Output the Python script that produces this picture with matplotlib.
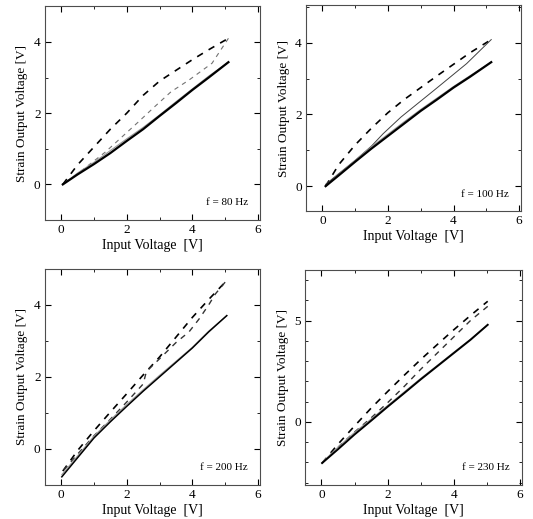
import matplotlib
matplotlib.use('Agg')
from matplotlib import pyplot as plt
from matplotlib.ticker import MultipleLocator

plt.rcParams['font.family'] = ['Liberation Serif', 'DejaVu Serif']

# f = 80 Hz
p1_up_x = [0.05, 0.5, 1.0, 1.5, 2.0, 2.5, 3.0, 3.5, 4.0, 4.5, 5.1]
p1_up_y = [0.0, 0.55, 1.05, 1.55, 2.0, 2.5, 2.9, 3.2, 3.5, 3.78, 4.1]
p1_dn_x = [5.1, 4.6, 3.9, 3.35, 2.85, 2.35, 1.85, 1.35, 0.85, 0.5, 0.05]
p1_dn_y = [4.1, 3.4, 2.93, 2.6, 2.18, 1.75, 1.33, 0.91, 0.55, 0.3, 0.0]
p1_sol_x = [0.05, 0.5, 1.0, 1.5, 2.0, 2.5, 3.0, 3.5, 4.0, 4.5, 5.1]
p1_sol_y = [0.0, 0.28, 0.57, 0.88, 1.22, 1.55, 1.92, 2.28, 2.65, 3.0, 3.43]
p1_gr_y = [0.0, 0.32, 0.62, 0.95, 1.28, 1.6, 1.95, 2.32, 2.68, 3.04, 3.43]

# f = 100 Hz
p2_up_x = [0.1, 0.5, 1.0, 1.5, 2.0, 2.5, 3.0, 3.5, 4.0, 4.5, 5.15]
p2_up_y = [0.0, 0.6, 1.15, 1.62, 2.05, 2.42, 2.75, 3.08, 3.4, 3.72, 4.09]
p2_dn_x = [5.15, 4.4, 3.4, 2.4, 1.85, 1.5, 1.0, 0.5, 0.1]
p2_dn_y = [4.09, 3.42, 2.67, 1.93, 1.46, 1.12, 0.72, 0.35, 0.05]
p2_sol_x = [0.1, 0.5, 1.0, 1.5, 2.0, 2.5, 3.0, 3.5, 4.0, 4.5, 5.15]
p2_sol_y = [0.0, 0.3, 0.68, 1.05, 1.4, 1.75, 2.1, 2.42, 2.75, 3.05, 3.46]
p2_gr_y = [0.0, 0.33, 0.72, 1.1, 1.45, 1.8, 2.14, 2.46, 2.78, 3.08, 3.46]

# f = 200 Hz
p3_up_x = [0.05, 0.5, 1.0, 1.5, 2.0, 2.5, 3.0, 3.5, 4.0, 4.5, 5.0]
p3_up_y = [-0.62, -0.05, 0.5, 1.02, 1.53, 2.05, 2.55, 3.1, 3.65, 4.15, 4.63]
p3_dn_x = [5.0, 4.7, 4.5, 4.2, 3.9, 3.5, 3.0, 2.6, 2.5, 2.0, 1.5, 1.0, 0.5, 0.05]
p3_dn_y = [4.63, 4.3, 4.0, 3.6, 3.25, 2.95, 2.5, 2.15, 1.8, 1.3, 0.82, 0.36, -0.15, -0.62]
p3_sol_x = [0.02, 0.5, 1.0, 1.5, 2.0, 2.5, 3.0, 3.5, 4.0, 4.5, 5.05]
p3_sol_y = [-0.78, -0.25, 0.3, 0.75, 1.18, 1.6, 2.0, 2.4, 2.8, 3.25, 3.7]
p3_gr_y = [-0.72, -0.2, 0.35, 0.8, 1.23, 1.64, 2.04, 2.43, 2.82, 3.27, 3.7]

# f = 230 Hz
p4_up_x = [0.02, 0.5, 1.0, 1.5, 2.0, 2.5, 3.0, 3.5, 4.0, 4.5, 5.02]
p4_up_y = [-2.03, -1.1, -0.2, 0.68, 1.5, 2.3, 3.08, 3.82, 4.55, 5.25, 5.95]
p4_dn_x = [5.02, 4.5, 4.0, 3.5, 3.0, 2.5, 2.0, 1.5, 1.0, 0.5, 0.02]
p4_dn_y = [5.7, 5.0, 4.2, 3.4, 2.6, 1.75, 0.95, 0.2, -0.5, -1.25, -2.03]
p4_sol_x = [0.02, 0.5, 1.0, 1.5, 2.0, 2.5, 3.0, 3.5, 4.0, 4.5, 5.02]
p4_sol_y = [-2.03, -1.35, -0.62, 0.06, 0.75, 1.42, 2.1, 2.75, 3.4, 4.05, 4.79]
p4_gr_y = [-2.0, -1.25, -0.52, 0.14, 0.81, 1.48, 2.15, 2.79, 3.44, 4.08, 4.79]

panels = [
    (p1_up_x, p1_up_y, p1_dn_x, p1_dn_y, p1_sol_x, p1_sol_y, p1_gr_y, 'f = 80 Hz', '--', 1.6),
    (p2_up_x, p2_up_y, p2_dn_x, p2_dn_y, p2_sol_x, p2_sol_y, p2_gr_y, 'f = 100 Hz', '-', 1.6),
    (p3_up_x, p3_up_y, p3_dn_x, p3_dn_y, p3_sol_x, p3_sol_y, p3_gr_y, 'f = 200 Hz', '--', 1.1),
    (p4_up_x, p4_up_y, p4_dn_x, p4_dn_y, p4_sol_x, p4_sol_y, p4_gr_y, 'f = 230 Hz', '--', 1.4),
]

positions = [
    [0.084, 0.576, 0.403, 0.412],
    [0.574, 0.593, 0.403, 0.397],
    [0.084, 0.066, 0.403, 0.416],
    [0.572, 0.066, 0.407, 0.414],
]
ylims = [(-1, 5), (-0.7, 5.05), (-1, 5), (-3.1, 7.5)]
# return branch colour / width per panel (the 80 Hz one is faint)
ret_col = ['0.45', '0.25', '0.2', '0.2']
ret_lw = [0.8, 0.7, 1.0, 1.0]

fig = plt.figure(figsize=(5.33, 5.19), dpi=100)

for i, (ux, uy, dx, dy, sx, sy, gy, label, ret_style, slw) in enumerate(panels):
    ax = fig.add_axes(positions[i])
    ax.plot(ux, uy, c='black', ls='--', lw=1.2, dashes=(4, 4))
    if ret_style == '-':
        ax.plot(dx, dy, c=ret_col[i], lw=ret_lw[i])
    else:
        ax.plot(dx, dy, c=ret_col[i], ls='--', lw=ret_lw[i], dashes=(4, 4))
    ax.plot(sx, gy, c='0.6', lw=0.8)
    ax.plot(sx, sy, c='black', lw=slw)

    ax.set_xlim(-0.5, 6.05)
    ax.set_ylim(ylims[i])
    ax.xaxis.set_major_locator(MultipleLocator(2))
    ax.xaxis.set_minor_locator(MultipleLocator(1))
    if i == 3:
        ax.yaxis.set_major_locator(MultipleLocator(5))
    else:
        ax.yaxis.set_major_locator(MultipleLocator(2))
    ax.yaxis.set_minor_locator(MultipleLocator(1))
    ax.tick_params(which='both', direction='in', top=True, right=True, labelsize=9.5, pad=3)
    ax.tick_params(which='major', length=4)
    ax.tick_params(which='minor', length=2.5)
    for s in ax.spines.values():
        s.set_linewidth(0.8)
        s.set_color('0.3')

    ax.set_xlabel('Input Voltage  [V]', fontsize=10, labelpad=2)
    ax.set_ylabel('Strain Output Voltage [V]', fontsize=9.5, labelpad=4)
    ax.text(0.945, 0.08, label, transform=ax.transAxes, ha='right', va='center', fontsize=8)

plt.savefig('out.png', dpi=100)
